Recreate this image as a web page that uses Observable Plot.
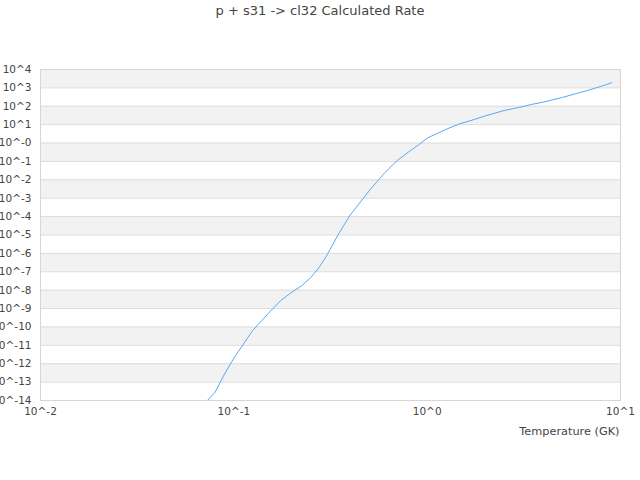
<!DOCTYPE html>
<html>
<head>
<meta charset="utf-8">
<script src="https://cdn.jsdelivr.net/npm/d3@7"></script>
<script src="https://cdn.jsdelivr.net/npm/@observablehq/plot@0.6"></script>
<style>
  body { margin: 0; background: #fff; font-family: "DejaVu Sans", sans-serif; }
  #wrap { position: relative; width: 640px; height: 480px; }
  #title { position: absolute; top: 3px; left: 0; width: 640px; text-align: center; font-size: 13px; color: #444; }
</style>
</head>
<body>
<div id="wrap"><div id="title">p + s31 -&gt; cl32 Calculated Rate</div></div>
<script>
// Temperature grid (GK)
const temperatures = [0.07, 0.08, 0.09, 0.1, 0.125, 0.15, 0.175, 0.2, 0.225, 0.25, 0.275, 0.3, 0.35, 0.4, 0.5, 0.6, 0.7, 0.8, 0.9, 1.0, 1.25, 1.45, 1.75, 2.0, 2.5, 3.0, 3.5, 4.0, 5.0, 6.0, 7.0, 8.0, 9.0];
// log10 of the calculated rate
const logRates = [-14.2, -13.55, -12.51, -11.7, -10.2, -9.29, -8.56, -8.10, -7.75, -7.31, -6.79, -6.18, -4.90, -3.91, -2.61, -1.64, -0.95, -0.49, -0.11, 0.27, 0.74, 1.02, 1.28, 1.48, 1.77, 1.94, 2.11, 2.23, 2.48, 2.71, 2.91, 3.10, 3.28];

const yExponents = [4, 3, 2, 1, 0, -1, -2, -3, -4, -5, -6, -7, -8, -9, -10, -11, -12, -13, -14];
const yTickLabels = ["10^4", "10^3", "10^2", "10^1", "10^-0", "10^-1", "10^-2", "10^-3", "10^-4", "10^-5", "10^-6", "10^-7", "10^-8", "10^-9", "10^-10", "10^-11", "10^-12", "10^-13", "10^-14"];
const xExponents = [-2, -1, 0, 1];
const xTickLabels = ["10^-2", "10^-1", "10^0", "10^1"];
const bandUpperExponents = [4, 2, 0, -2, -4, -6, -8, -10, -12];

const data = temperatures.map((t, i) => ({T: t, rate: Math.pow(10, logRates[i])}));
const yTicks = yExponents.map(e => Math.pow(10, e));
const xTicks = xExponents.map(e => Math.pow(10, e));
const yLabelOf = new Map(yTicks.map((v, i) => [v, yTickLabels[i]]));
const xLabelOf = new Map(xTicks.map((v, i) => [v, xTickLabels[i]]));
const bands = bandUpperExponents.map(e => ({y1: Math.pow(10, e - 1), y2: Math.pow(10, e)}));

const chart = Plot.plot({
  width: 640,
  height: 480,
  marginTop: 69,
  marginBottom: 80,
  marginLeft: 40,
  marginRight: 20,
  style: {fontFamily: "DejaVu Sans, sans-serif", fontSize: "10.5px", color: "#444", background: "transparent", overflow: "visible"},
  x: {type: "log", domain: [0.01, 10]},
  y: {type: "log", domain: [1e-14, 1e4]},
  marks: [
    Plot.rect(bands, {y1: "y1", y2: "y2", fill: "#f2f2f2"}),
    Plot.ruleY(yTicks, {stroke: "#dcdcdc", strokeWidth: 1}),
    Plot.frame({stroke: "#d6d6d6"}),
    Plot.axisY({ticks: yTicks, tickSize: 0, tickPadding: 9, tickFormat: d => yLabelOf.get(d) ?? "", label: null}),
    Plot.axisX({ticks: xTicks, tickSize: 0, tickPadding: 7, tickFormat: d => xLabelOf.get(d) ?? "", label: null}),
    Plot.line(data, {x: "T", y: "rate", stroke: "#5ba8f2", strokeWidth: 1, clip: true}),
    Plot.text(["Temperature (GK)"], {frameAnchor: "bottom-right", text: d => d, textAnchor: "end", lineAnchor: "middle", dy: 31, dx: -1, fill: "#444", fontSize: 11.3})
  ]
});
document.getElementById("wrap").appendChild(chart);
chart.style.position = "absolute";
chart.style.left = "0";
chart.style.top = "0";
</script>
</body>
</html>
